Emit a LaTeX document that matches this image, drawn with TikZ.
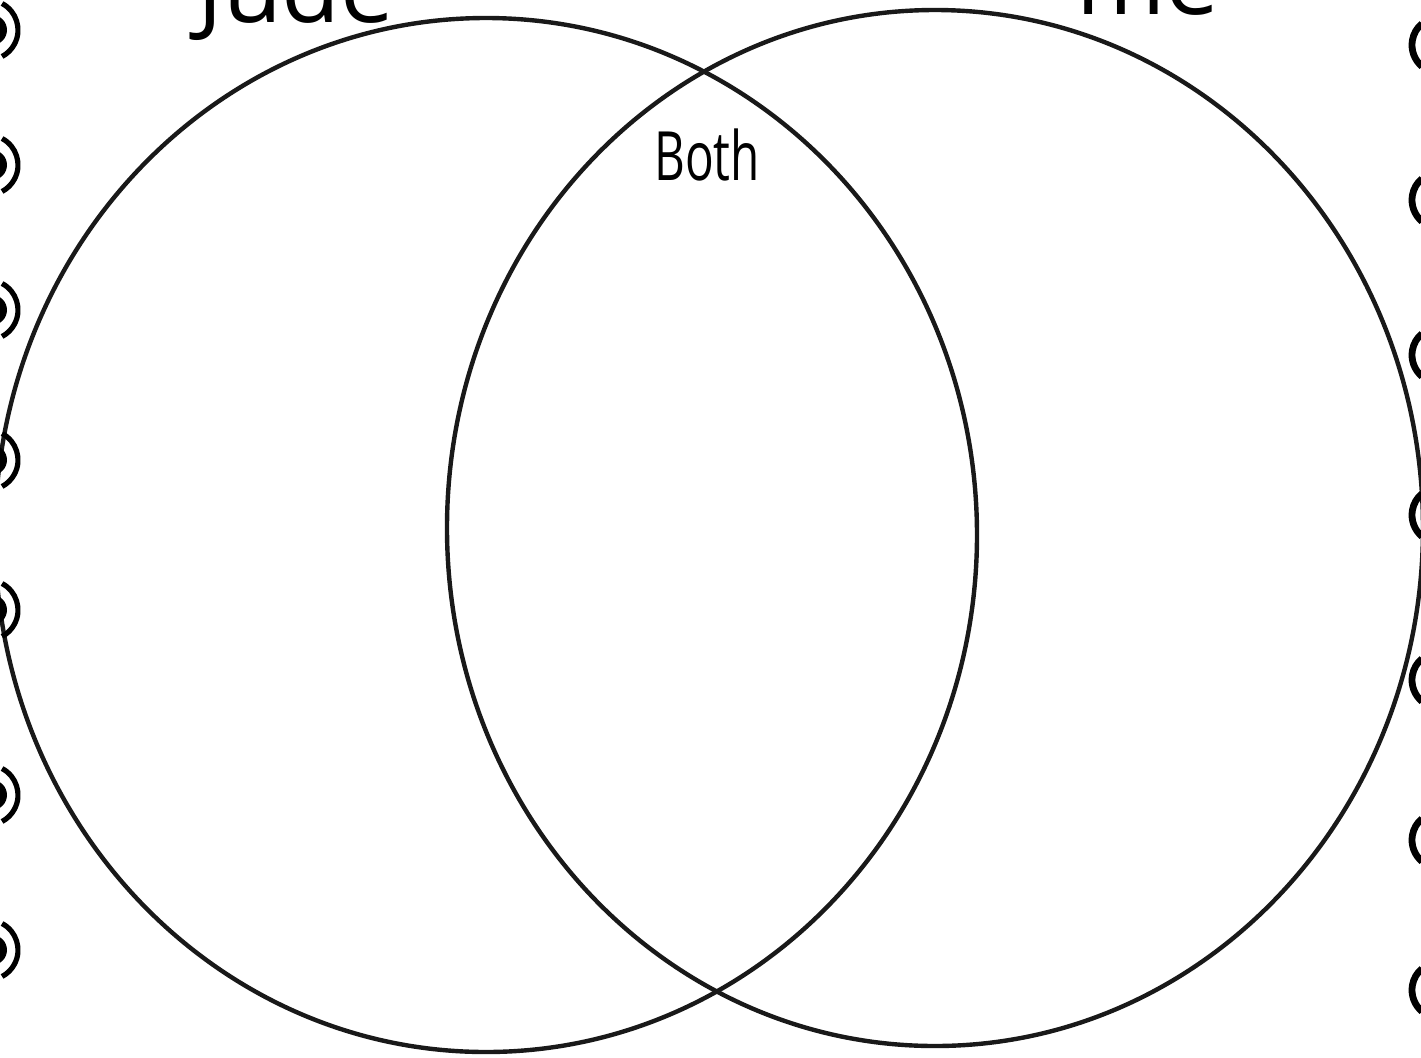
\documentclass[tikz,border=0pt]{standalone}
\usepackage{fontspec}
\setmainfont{Open Sans}
\begin{document}
\begin{tikzpicture}[x=0.5pt,y=-0.5pt,
  ring/.style={line width=2.6pt,black},
  venn/.style={line width=2.2pt,black!90},
  lbl/.style={font=\fontsize{34}{40}\selectfont,xscale=0.7,inner sep=0pt},
  head/.style={font=\fontsize{48}{54}\selectfont,anchor=base,inner sep=0pt}]
\useasboundingbox (0,0) rectangle (1421,1057);
\clip (0,0) rectangle (1421,1057);
\fill[white] (0,0) rectangle (1421,1057);
% circles
\draw[venn] (486,535) ellipse [x radius=491, y radius=517];
\draw[venn] (935,528) ellipse [x radius=488, y radius=518];
% label
\node[lbl,anchor=base] (both) at (707,180) {Both};
% clipped headings at top
\node[head] (lt) at (296,22) {Jude};
\node[head] (rt) at (1148,14) {me};
% binding rings left
\foreach \yy in {30,165,310,460,610,795,950}{
  \draw[ring] (-12,\yy) ++(-62:30) arc[start angle=-62,end angle=62,radius=30];
  \fill (-8,\yy) circle[radius=15];
}
% binding rings right
\foreach \yy in {45,200,355,515,680,840,990}{
  \draw[line width=3.4pt] (1440,\yy) ++(130:28) arc[start angle=130,end angle=230,radius=28];
}
\end{tikzpicture}
\end{document}
